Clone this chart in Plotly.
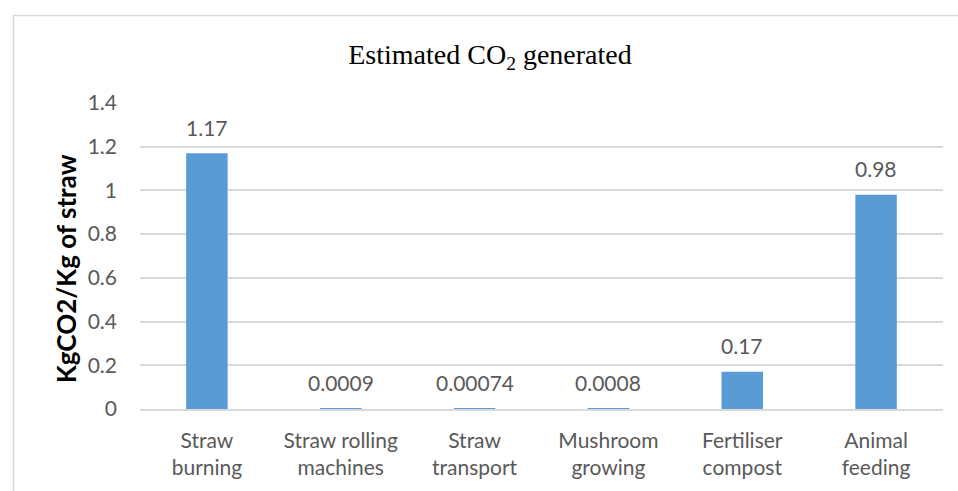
import plotly.graph_objects as go

# Estimated CO2 generated per kg of straw, by straw use
categories = [
    "Straw<br>burning",
    "Straw rolling<br>machines",
    "Straw<br>transport",
    "Mushroom<br>growing",
    "Fertiliser<br>compost",
    "Animal<br>feeding",
]
values = [1.17, 0.0009, 0.00074, 0.0008, 0.17, 0.98]
value_labels = ["1.17", "0.0009", "0.00074", "0.0008", "0.17", "0.98"]
y_ticks = [0, 0.2, 0.4, 0.6, 0.8, 1, 1.2, 1.4]
y_tick_labels = ["0", "0.2", "0.4", "0.6", "0.8", "1", "1.2", "1.4"]

W, H = 958, 491
L, R, T, B = 140, 15, 103, 82
plot_w = W - L - R
plot_h = H - T - B


def px_x(px):
    return (px - L) / plot_w


def px_y(py):
    return (H - B - py) / plot_h


label_font = dict(family="Lato, Open Sans, sans-serif", size=21, color="#595959")

fig = go.Figure(
    go.Bar(
        x=categories,
        y=values,
        marker=dict(color="#5B9BD5", line=dict(width=0)),
        width=0.31,
        hoverinfo="x+y",
    )
)

# value labels above each bar
for cat, val, txt in zip(categories, values, value_labels):
    fig.add_annotation(
        x=cat, y=val, text=txt, showarrow=False,
        yanchor="middle", yshift=26, font=label_font,
    )

# y-axis title
fig.add_annotation(
    xref="paper", yref="paper", x=px_x(66), y=px_y(269),
    text="<b>KgCO2/Kg of straw</b>", textangle=-90, showarrow=False,
    xanchor="center", yanchor="middle",
    font=dict(family="Lato, Open Sans, sans-serif", size=26, color="#000000"),
)

# chart-area frame
fig.add_shape(
    type="rect", xref="paper", yref="paper",
    x0=px_x(13.5), x1=px_x(980), y0=px_y(15.5), y1=px_y(520),
    line=dict(color="#D9D9D9", width=1.5), fillcolor="rgba(0,0,0,0)", layer="below",
)

fig.update_layout(
    width=W, height=H,
    margin=dict(l=L, r=R, t=T, b=B),
    paper_bgcolor="white", plot_bgcolor="white",
    showlegend=False,
    title=dict(
        text="Estimated CO<sub>2</sub> generated",
        font=dict(family="Liberation Serif, Times New Roman, serif", size=28, color="#000000"),
        x=490 / W, xanchor="center",
        yref="container", y=1 - 54 / H, yanchor="middle",
    ),
    xaxis=dict(
        showgrid=False, showline=True, linecolor="#D9D9D9", linewidth=1.5,
        ticks="", tickfont=label_font, ticklabelstandoff=12, layer="above traces",
    ),
    yaxis=dict(
        range=[0, 1.4], tickvals=y_ticks, ticktext=y_tick_labels,
        showgrid=True, gridcolor="#D9D9D9", gridwidth=1.5,
        zeroline=False, showline=False, ticks="",
        tickfont=label_font, ticklabelstandoff=22,
    ),
)

fig.write_html("out.html")
